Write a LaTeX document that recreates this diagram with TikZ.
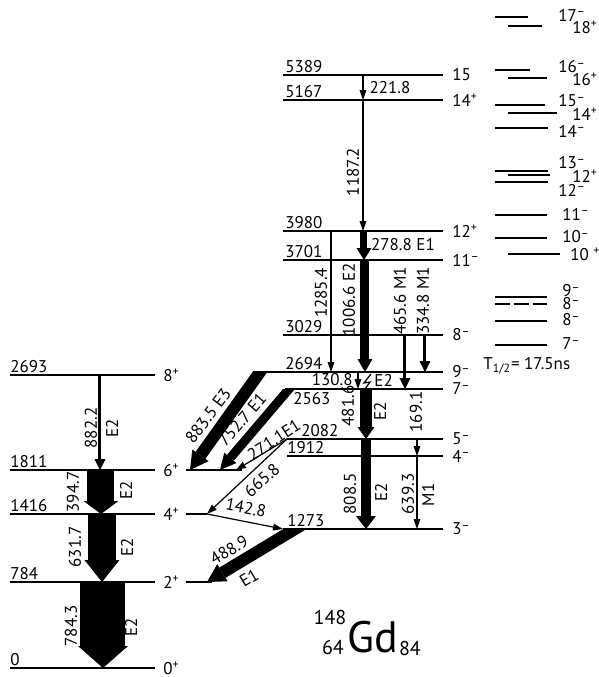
\documentclass[tikz,border=0pt]{standalone}
\usepackage{fontspec}
\setmainfont{PT Sans}
\usetikzlibrary{arrows.meta,calc}

\newcommand\pp{\textsuperscript{+}}
\newcommand\mm{\textsuperscript{–}}

\tikzset{
  lvl/.style={line width=0.7pt},
  tr/.style={line width=0.6pt,-{Triangle[length=5pt,width=3.5pt,line width=0pt]}},
  mtr/.style={line width=1.5pt,-{Triangle[length=5.5pt,width=5.5pt,line width=0pt]}},
  fat/.style n args={3}{line width=#1,-{Triangle[width=#2,length=#3,line width=0pt]}},
  lab/.style={inner sep=0pt,font=\fontsize{8.5}{9}\selectfont},
}

% slanted wide arrow, cut off along its level
\newcommand\slantband[4]{%
  \begin{scope}
    \clip (0,#1) rectangle (599,677);
    \draw[#4] ($(#3)!1.2!(#2)$) -- (#3);
  \end{scope}}

\begin{document}
\begin{tikzpicture}[x=0.5pt,y=-0.5pt]
  \useasboundingbox (0,0) rectangle (599,677);
  % Levels
  \foreach \n/\y/\a/\b in {0/668/10/155, 784/582/10/155, 1416/514/10/155, 1811/470/10/155, 2693/375/10/155,
      1273/529/283/443, 1912/456/287/443, 2082/439/287/443, 2563/389/285/443, 3029/335/283/443,
      3701/260/283/443, 3980/231/283/443, 5167/100/283/443, 5389/75/283/443}
    \draw[lvl] (\a,\y) coordinate (L\n) -- (\b,\y) coordinate (R\n);
  \draw[line width=1.4pt] (253,372) coordinate (L2694) -- (443,372) coordinate (R2694);
  \draw[lvl] (186,470) coordinate (s6) -- (242,470);
  \draw[lvl] (186,514) coordinate (s4) -- (207,514) coordinate (s4r);
  \draw[lvl] (186,582) coordinate (s2) -- (212,582);
  % Energies
  \foreach \t/\x/\y in {0/10/666, 784/10/580, 1416/10/512, 1811/10/468, 2693/10/373,
      1273/287/527, 1912/287/454, 2082/301/437, 2694/285/370, 3029/285/333,
      3701/285/258, 3980/285/229, 5167/285/98, 5389/285/73}
    \node[lab,anchor=south west] (E\t) at (\x,\y) {\t};
  \node[lab,anchor=north west] (E2563) at (293,392) {2563};
  % Spins
  \foreach \s/\y [count=\i] in {0\pp/668, 2\pp/582, 4\pp/514, 6\pp/470, 8\pp/375}
    \node[lab,anchor=west] (J\i) at (163,\y) {\s};
  \foreach \s/\y [count=\i] in {3\mm/529, 4\mm/456, 5\mm/439, 7\mm/389, 9\mm/372,
      8\mm/335, 11\mm/260, 12\pp/231, 14\pp/100, 15/75}
    \node[lab,anchor=west] (M\i) at (452,\y) {\s};
  \node[lab,anchor=west] (thalf) at (483,366) {T\textsubscript{1/2}= 17.5ns};
  % Right column
  \foreach \y/\a/\b in {17/495/528, 26/508/542, 70/495/530, 78/508/547, 105/495/545, 113/508/557,
      128/495/548, 171/495/548, 175/508/550, 182/495/548, 215/495/547, 238/495/547,
      254/508/560, 297/495/547, 321/495/547, 345/495/547}
    \draw[lvl] (\a,\y) -- (\b,\y);
  \draw[lvl,dash pattern=on 7.5pt off 2pt] (495,304) -- (547,304);
  \foreach \t/\x/\y [count=\i] in {17\mm/558/15, 18\pp/572/27, 16\mm/558/67, 16\pp/572/79,
      15\mm/558/101, 14\pp/572/114, 14\mm/558/131, 13\mm/558/163, 12\pp/572/176,
      12\mm/558/190, 11\mm/562/214, 10\mm/562/237, 10 \pp/570/254, 9\mm/562/291,
      8\mm/562/304, 8\mm/562/320, 7\mm/562/344}
    \node[lab,anchor=west] (K\i) at (\x,\y) {\t};
  % Ground band
  \draw[mtr] (100,0 |- L2693) -- (100,0 |- L1811);
  \draw[fat={13.5pt}{17.5pt}{6.5pt}] (101,0 |- L1811) -- (101,0 |- L1416);
  \draw[fat={14pt}{17.5pt}{11pt}] (102,0 |- L1416) -- (102,0 |- L784);
  \draw[fat={22.5pt}{25pt}{11pt}] (103,0 |- L784) -- (103,0 |- L0);
  \node[lab,rotate=90] (g882) at (91,428) {882.2};
  \node[lab,rotate=90] (m882) at (112,428) {E2};
  \node[lab,rotate=90] (g394) at (73,492) {394.7};
  \node[lab,rotate=90] (m394) at (126,490) {E2};
  \node[lab,rotate=90] (g631) at (75,547) {631.7};
  \node[lab,rotate=90] (m631) at (127,547) {E2};
  \node[lab,rotate=90] (g784) at (71,626) {784.3};
  \node[lab,rotate=90] (m784) at (131,627) {E2};
  % Yrast cascade
  \draw[tr] (363,0 |- L5389) -- (363,0 |- L5167);
  \draw[tr] (363,0 |- L5167) -- (363,0 |- L3980);
  \draw[fat={3.5pt}{7.5pt}{6pt}] (364,0 |- L3980) -- (364,0 |- L3701);
  \draw[fat={4.5pt}{7.5pt}{6.5pt}] (365,0 |- L3701) -- (365,0 |- L2694);
  \draw[tr] (331,0 |- L3980) -- (331,0 |- L2694);
  \draw[mtr] (405,0 |- L3029) -- (405,0 |- L2563);
  \draw[mtr] (425,0 |- L3029) -- (425,0 |- L2694);
  \draw[tr] (358,0 |- L2694) -- (358,0 |- L2563);
  \draw[line width=0.6pt] (371,374) -- (364,383) -- (370,382) -- (365,389);
  \draw[fat={6pt}{8.5pt}{6pt}] (366,0 |- L2563) -- (366,0 |- L2082);
  \draw[fat={5pt}{10pt}{6.5pt}] (366,0 |- L2082) -- (366,0 |- L1273);
  \draw[tr] (417,0 |- L2082) -- (417,0 |- L1912);
  \draw[tr] (417,0 |- L1912) -- (417,0 |- L1273);
  \node[lab] (g221) at (390,88) {221.8};
  \node[lab,rotate=90] (g1187) at (353,172) {1187.2};
  \node[lab] (g278) at (403,245) {278.8 E1};
  \node[lab,rotate=90] (g1285) at (321,293) {1285.4};
  \node[lab,rotate=90] (g1006) at (349,300) {1006.6 E2};
  \node[lab,rotate=90] (g465) at (400,301) {465.6 M1};
  \node[lab,rotate=90] (g334) at (423,301) {334.8 M1};
  \node[lab,anchor=east] (g130) at (353,380) {130.8};
  \node[lab,anchor=west] (m130) at (374,380) {E2};
  \node[lab,rotate=90] (g481) at (348,406) {481.6};
  \node[lab,rotate=90] (m481) at (380,411) {E2};
  \node[lab,rotate=90] (g169) at (416,412) {169.1};
  \node[lab,rotate=90] (g808) at (350,494) {808.5};
  \node[lab,rotate=90] (m808) at (381,492) {E2};
  \node[lab,rotate=90] (g639) at (408,494) {639.3};
  \node[lab,rotate=90] (m639) at (428,495) {M1};
  % Slanted transitions
  \coordinate (a883) at (260,372);
  \coordinate (b883) at (190,470);
  \slantband{372}{a883}{b883}{fat={6pt}{10pt}{9pt}}
  \coordinate (a752) at (289,389);
  \coordinate (b752) at (220,470);
  \slantband{389}{a752}{b752}{fat={4.5pt}{8pt}{8pt}}
  \coordinate (a488) at (295,529);
  \coordinate (b488) at (207,582);
  \slantband{529}{a488}{b488}{fat={6pt}{10pt}{9pt}}
  \draw[tr] (L2082) -- (236,470) coordinate (b271);
  \draw[tr] (L2082) -- (s4r);
  \draw[tr] (s4r) -- (L1273);
  \node[lab,rotate=53] (g883) at (208,416) {883.5 E3};
  \node[lab,rotate=49] (g752) at (242,420) {752.7 E1};
  \node[lab,rotate=33] (g271) at (274,440) {271.1E1};
  \node[lab,rotate=42] (g665) at (262,480) {665.8};
  \node[lab,rotate=-11] (g142) at (246,508) {142.8};
  \node[lab,rotate=31] (g488) at (229,550) {488.9};
  \node[lab,rotate=31] (m488) at (249,578) {E1};
  % Nucleus
  \node[inner sep=0pt,font=\fontsize{22}{22}\selectfont] (gd) at (373,637) {Gd};
  \node[lab,font=\fontsize{10}{10}\selectfont] (mass) at (330,617) {148};
  \node[lab,font=\fontsize{10}{10}\selectfont] (prot) at (333,647) {64};
  \node[lab,font=\fontsize{10}{10}\selectfont] (neut) at (410,648) {84};
\end{tikzpicture}
\end{document}
